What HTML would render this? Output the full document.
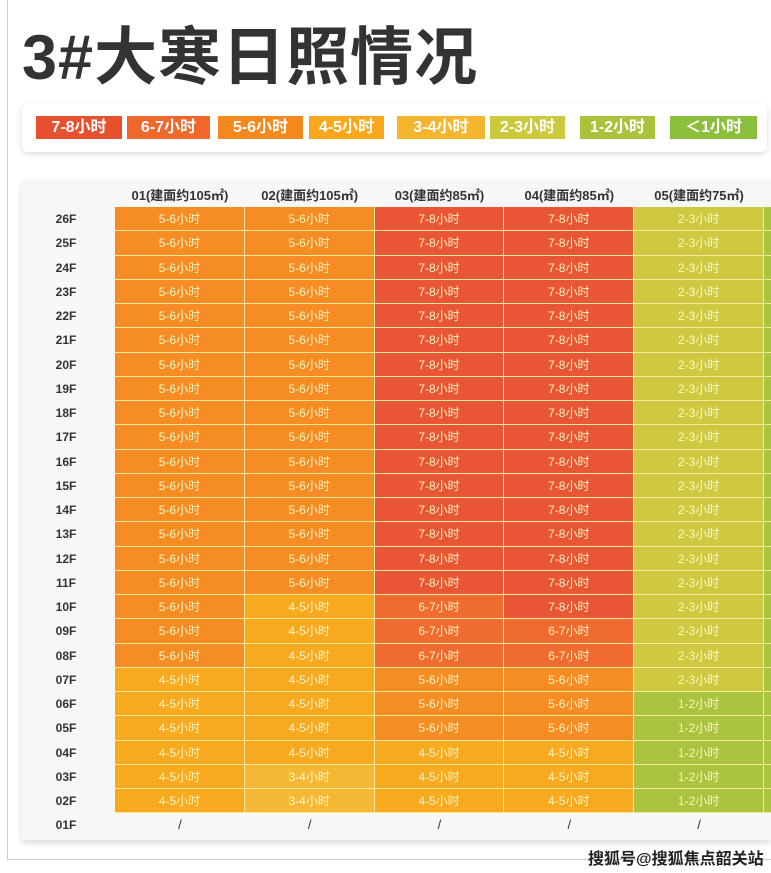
<!DOCTYPE html>
<html><head><meta charset="utf-8">
<style>
body{margin:0;width:771px;height:873px;background:#fff;position:relative;overflow:hidden;font-family:"Liberation Sans","Noto Sans CJK SC",sans-serif;}
#frame{position:absolute;left:7px;top:0;width:764px;height:860px;border-left:1px solid #ccc;border-bottom:1px solid #ccc;box-sizing:border-box;}
#title{position:absolute;left:22px;top:20px;font-size:63px;font-weight:bold;color:#333;letter-spacing:1px;line-height:76px;}
#legend{position:absolute;left:22px;top:104px;width:745px;height:48px;background:#fff;border-radius:6px;box-shadow:0 2px 6px rgba(0,0,0,0.15);}
.lg{position:absolute;top:12px;height:23px;color:#fff;font-size:16px;font-weight:bold;text-align:center;line-height:23px;}
#card{position:absolute;left:22px;top:180px;width:749px;height:660px;background:#f7f7f5;box-shadow:0 3px 6px rgba(0,0,0,0.15);}
.hd{position:absolute;top:185px;font-size:13px;font-weight:bold;color:#333;text-align:center;}
.rl{position:absolute;left:30px;width:72px;font-size:12px;font-weight:bold;color:#333;text-align:center;}
.cell{position:absolute;color:#fff6c0;font-size:12px;text-align:center;box-sizing:border-box;border-right:1px solid #f8e89a;border-bottom:1px solid #f8e89a;opacity:0.97;}
#foot{position:absolute;left:588px;top:845px;font-size:16px;font-weight:bold;color:#222;}
</style></head><body>
<div id="frame"></div>
<div id="title">3#大寒日照情况</div>
<div id="legend"></div>
<div id="card"></div>
<div id="foot">搜狐号@搜狐焦点韶关站</div>
<script>
const categories=["7-8小时","6-7小时","5-6小时","4-5小时","3-4小时","2-3小时","1-2小时","＜1小时"];
const catColors=["#e8512f","#f0672a","#f5891e","#f8a81a","#f4b62e","#ccc93c","#a9c33a","#8cbf3c"];
const columns=["01(建面约105㎡)","02(建面约105㎡)","03(建面约85㎡)","04(建面约85㎡)","05(建面约75㎡)"];
const floors=["26F","25F","24F","23F","22F","21F","20F","19F","18F","17F","16F","15F","14F","13F","12F","11F","10F","09F","08F","07F","06F","05F","04F","03F","02F"];
// category index per floor (26F..02F), per column
const col1=[2,2,2,2,2,2,2,2,2,2,2,2,2,2,2,2,2,2,2,3,3,3,3,3,3];
const col2=[2,2,2,2,2,2,2,2,2,2,2,2,2,2,2,2,3,3,3,3,3,3,3,4,4];
const col3=[0,0,0,0,0,0,0,0,0,0,0,0,0,0,0,0,1,1,1,2,2,2,3,3,3];
const col4=[0,0,0,0,0,0,0,0,0,0,0,0,0,0,0,0,0,1,1,2,2,2,3,3,3];
const col5=[5,5,5,5,5,5,5,5,5,5,5,5,5,5,5,5,5,5,5,5,6,6,6,6,6];
const col6=[6,6,6,6,6,6,6,6,6,6,6,6,6,6,6,6,6,6,6,6,6,6,6,6,6];
const series=[col1,col2,col3,col4,col5,col6];

const lgX=[36,127,218,309,397,490,580,670], lgW=[86,83,85,75,88,75,75,87];
const leg=document.getElementById('legend');
categories.forEach((c,i)=>{const d=document.createElement('div');d.className='lg';


d.style.left=(lgX[i]-22)+'px';d.style.width=lgW[i]+'px';d.style.background=catColors[i];d.textContent=c;leg.appendChild(d);});

const x0=115, colW=129.8, y0=207, rowH=24.25;
const xAt=i=>x0+i*colW, yAt=j=>y0+j*rowH;
columns.forEach((c,i)=>{const d=document.createElement('div');d.className='hd';


d.style.left=xAt(i)+'px';d.style.width=colW+'px';d.textContent=c;document.body.appendChild(d);});
const allFloors=floors.concat(["01F"]);
allFloors.forEach((f,j)=>{const d=document.createElement('div');d.className='rl';


d.style.top=yAt(j)+'px';d.style.height=rowH+'px';d.style.lineHeight=rowH+'px';d.textContent=f;document.body.appendChild(d);});
series.forEach((s,i)=>{s.forEach((v,j)=>{const d=document.createElement('div');d.className='cell';


const w=Math.min(colW,771-xAt(i));
d.style.left=xAt(i)+'px';d.style.top=yAt(j)+'px';d.style.width=w+'px';d.style.height=rowH+'px';
if(i==5)d.style.borderRight='none';
d.style.lineHeight=rowH+'px';d.style.background=catColors[v];d.textContent=i<5?categories[v]:'';document.body.appendChild(d);});
if(i<5){const d=document.createElement('div');


d.style.cssText='position:absolute;font-size:13px;color:#333;text-align:center;';
d.style.left=xAt(i)+'px';d.style.top=yAt(s.length)+'px';d.style.width=colW+'px';d.style.lineHeight=rowH+'px';d.textContent='/';document.body.appendChild(d);}});
</script>
</body></html>
